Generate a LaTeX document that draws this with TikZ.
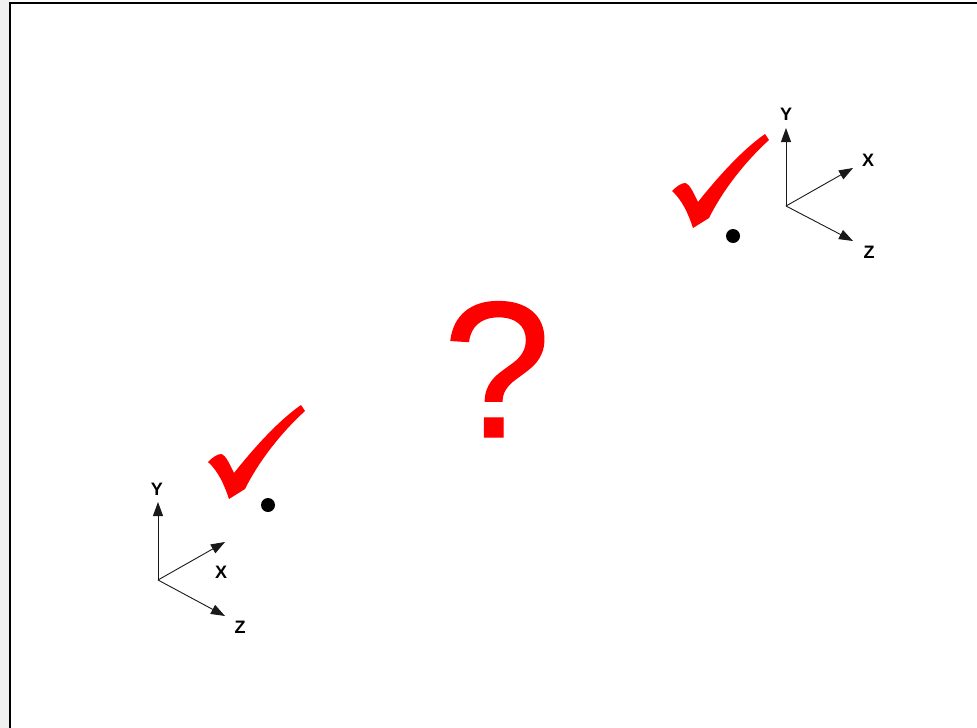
\documentclass[tikz,border=0pt]{standalone}
\usepackage{fontspec}
\setmainfont{Liberation Sans}[BoldFont={Liberation Sans Bold}]
\newfontfamily\askfont{Liberation Sans}[FakeBold=0.7]
\usetikzlibrary{arrows.meta}

\begin{document}
\begin{tikzpicture}[
  x=1pt, y=-1pt,
  axis/.style={draw=black!90, line width=0.9pt, -{Triangle[length=14pt, width=10pt]}},
  axlbl/.style={inner sep=0pt, font=\fontsize{18}{18}\selectfont\bfseries},
  spot/.style={circle, fill=black, inner sep=0pt, minimum size=14pt},
  tick/.pic={\fill[red] (0,0) .. controls (4,-4) and (9,-8) .. (13,-8)
      .. controls (18,-7) and (22,3) .. (26,11)
      .. controls (45,-13) and (70,-41) .. (93,-57) -- (97,-51)
      .. controls (75,-31) and (52,-3) .. (37,27) -- (21,37)
      .. controls (16,22) and (10,9) .. (0,0) -- cycle;}
]
% --- page frame ---
\useasboundingbox (0,0) rectangle (977,728);
\fill[black!6] (0,0) rectangle (10,728);
\draw[line width=1.5pt] (977,3) -- (10,3) -- (10,728);

% --- upper right: tick, spot, axes ---
\pic at (672,191) {tick};
\node[spot] (s1) at (733,236) {};
\coordinate (o1) at (786,206);
\coordinate (y1tip) at (786,128);
\coordinate (x1tip) at (853,168);
\coordinate (z1tip) at (853,241);
\node[axlbl] (y1) at (786,114) {Y};
\node[axlbl] (x1) at (868,160) {X};
\node[axlbl] (z1) at (869,252) {Z};
\draw[axis] (o1) -- (y1tip);
\draw[axis] (o1) -- (x1tip);
\draw[axis] (o1) -- (z1tip);

% --- lower left: tick, spot, axes ---
\pic at (208,462) {tick};
\node[spot] (s2) at (268,505) {};
\coordinate (o2) at (158,580);
\coordinate (y2tip) at (158,502);
\coordinate (x2tip) at (225,542);
\coordinate (z2tip) at (225,616);
\node[axlbl] (y2) at (157,489) {Y};
\node[axlbl] (x2) at (221,572) {X};
\node[axlbl] (z2) at (240,627) {Z};
\draw[axis] (o2) -- (y2tip);
\draw[axis] (o2) -- (x2tip);
\draw[axis] (o2) -- (z2tip);

% --- the question ---
\node[anchor=base, inner sep=0pt, text=red, font=\askfont\fontsize{194}{194}\selectfont] (q) at (497,437) {?};
\end{tikzpicture}
\end{document}
